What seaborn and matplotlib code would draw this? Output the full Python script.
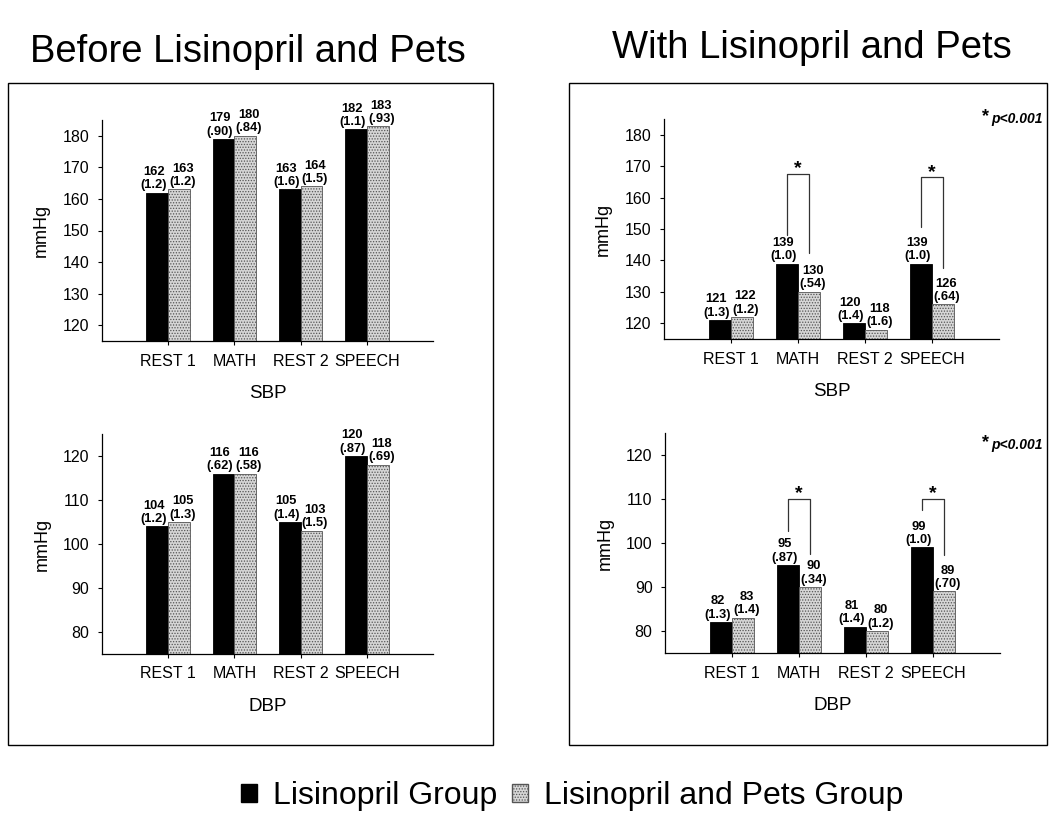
import numpy as np
import pandas as pd
import seaborn as sns
import matplotlib.pyplot as plt
from matplotlib.patches import Rectangle, Patch

# Dados
tasks = ['REST 1', 'MATH', 'REST 2', 'SPEECH']
groups = ['Lisinopril Group', 'Lisinopril and Pets Group']

sbp_before_lis = [162, 179, 163, 182]
sbp_before_lis_se = ['1.2', '.90', '1.6', '1.1']
sbp_before_pets = [163, 180, 164, 183]
sbp_before_pets_se = ['1.2', '.84', '1.5', '.93']

dbp_before_lis = [104, 116, 105, 120]
dbp_before_lis_se = ['1.2', '.62', '1.4', '.87']
dbp_before_pets = [105, 116, 103, 118]
dbp_before_pets_se = ['1.3', '.58', '1.5', '.69']

sbp_with_lis = [121, 139, 120, 139]
sbp_with_lis_se = ['1.3', '1.0', '1.4', '1.0']
sbp_with_pets = [122, 130, 118, 126]
sbp_with_pets_se = ['1.2', '.54', '1.6', '.64']

dbp_with_lis = [82, 95, 81, 99]
dbp_with_lis_se = ['1.3', '.87', '1.4', '1.0']
dbp_with_pets = [83, 90, 80, 89]
dbp_with_pets_se = ['1.4', '.34', '1.2', '.70']

# colchetes de significância: (tarefa, topo, fim perna esquerda, fim perna direita, estrela)
sbp_brackets = [(1, 167.5, 148, 142.5, 166.4), (3, 166.5, 150.5, 137.5, 165.4)]
dbp_brackets = [(1, 110, 102.7, 97.5, 109.4), (3, 110, 107.4, 97.3, 109.4)]

sns.set_style('ticks')
plt.rcParams['font.family'] = ['Liberation Sans', 'DejaVu Sans']
plt.rcParams['hatch.linewidth'] = 0.6
for k in ['text.color', 'axes.labelcolor', 'xtick.color', 'ytick.color', 'axes.edgecolor']:
    plt.rcParams[k] = 'black'

W, H = 1050, 817
fig = plt.figure(figsize=(10.5, 8.17), dpi=100)


def px_axes(left, top, right, bottom):
    return fig.add_axes([left / W, 1 - bottom / H, (right - left) / W, (bottom - top) / H])


def draw_panel(ax, lis, lis_se, pets, pets_se, ylim, yticks, xlabel, brackets=None):
    df = pd.DataFrame({
        'task': tasks * 2,
        'group': [groups[0]] * 4 + [groups[1]] * 4,
        'value': lis + pets,
    })
    sns.barplot(data=df, x='task', y='value', hue='group', order=tasks,
                hue_order=groups, palette=['black', '#d6d6d6'], width=0.66,
                edgecolor='black', linewidth=0.6, legend=False, ax=ax)
    for p in ax.containers[1]:
        p.set_hatch('......')
        p.set_edgecolor('#555555')

    ax.set_ylim(*ylim)
    ax.set_yticks(yticks)
    ax.set_xlim(-1, 4)
    ax.set_ylabel('mmHg', fontsize=13, labelpad=9)
    ax.set_xlabel(xlabel, fontsize=13.5, labelpad=12)
    ax.tick_params(axis='both', labelsize=11.5, length=3, pad=6, width=0.8)
    sns.despine(ax=ax)
    for s in ax.spines.values():
        s.set_linewidth(0.9)

    # rótulos das barras
    for cont, vals, ses, dx in zip(ax.containers, [lis, pets], [lis_se, pets_se], [-2.5, 2.5]):
        for p, v, se in zip(cont, vals, ses):
            ax.annotate(f'{v}\n({se})', (p.get_x() + p.get_width() / 2, p.get_height()),
                        xytext=(dx, 1), textcoords='offset points', ha='center',
                        va='bottom', fontsize=9.3, fontweight='bold', linespacing=1.15)

    if brackets:
        for i, top, lend, rend, star in brackets:
            pl = ax.containers[0][i]
            pr = ax.containers[1][i]
            xl = pl.get_x() + pl.get_width() / 2
            xr = pr.get_x() + pr.get_width() / 2
            ax.plot([xl, xl, xr, xr], [lend, top, top, rend], color='#333333', lw=0.9)
            ax.text((xl + xr) / 2, star, '*', ha='center', va='bottom', fontsize=14,
                    fontweight='bold')


ax1 = px_axes(102, 120, 433, 341)
draw_panel(ax1, sbp_before_lis, sbp_before_lis_se, sbp_before_pets, sbp_before_pets_se,
           (115, 185), range(120, 181, 10), 'SBP')
ax2 = px_axes(102, 434, 433, 654)
draw_panel(ax2, dbp_before_lis, dbp_before_lis_se, dbp_before_pets, dbp_before_pets_se,
           (75, 125), range(80, 121, 10), 'DBP')
ax3 = px_axes(664, 119, 999, 339)
draw_panel(ax3, sbp_with_lis, sbp_with_lis_se, sbp_with_pets, sbp_with_pets_se,
           (115, 185), range(120, 181, 10), 'SBP', sbp_brackets)
ax4 = px_axes(665, 433, 1000, 653)
draw_panel(ax4, dbp_with_lis, dbp_with_lis_se, dbp_with_pets, dbp_with_pets_se,
           (75, 125), range(80, 121, 10), 'DBP', dbp_brackets)

# nota de significância
for ytop in (119, 445):
    fig.text(989 / W, 1 - (ytop - 2) / H, '*', ha='right', va='center', fontsize=13,
             fontweight='bold')
    fig.text(991 / W, 1 - ytop / H, 'p<0.001', ha='left', va='center',
             fontsize=10, fontweight='bold', fontstyle='italic')

# caixas
fig.add_artist(Rectangle((8 / W, 1 - 745 / H), 485 / W, 662 / H, transform=fig.transFigure,
                         fill=False, lw=1, ec='black'))
fig.add_artist(Rectangle((569 / W, 1 - 745 / H), 478 / W, 662 / H, transform=fig.transFigure,
                         fill=False, lw=1, ec='black'))

fig.text(248 / W, 1 - 52 / H, 'Before Lisinopril and Pets', ha='center', va='center', fontsize=27.5)
fig.text(812 / W, 1 - 48 / H, 'With Lisinopril and Pets', ha='center', va='center', fontsize=27.5)

handles = [Patch(facecolor='black', edgecolor='black'),
           Patch(facecolor='#d6d6d6', edgecolor='#555555', hatch='......')]
fig.legend(handles, groups, loc='center', bbox_to_anchor=(572 / W, 1 - 796 / H), ncol=2,
           frameon=False, fontsize=23, handlelength=0.5, handleheight=0.5,
           handletextpad=0.5, columnspacing=0.45)

plt.savefig('out.png', dpi=100)
plt.close()
